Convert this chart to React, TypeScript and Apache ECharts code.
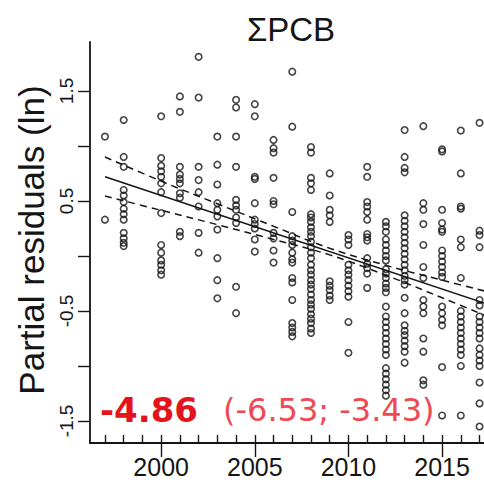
import React, { useEffect, useRef } from "react";
import * as echarts from "echarts";

// Sampling years and the partial residuals (ln) observed in each year
const pointYears = [
  1997, 1998, 2000, 2001, 2002, 2003, 2004, 2005, 2006, 2007, 2008,
  2009, 2010, 2011, 2012, 2013, 2014, 2015, 2016, 2017,
];
const residualsByYear: number[][] = [
  [1.085, 0.33],
  [1.236, 0.9, 0.81, 0.6, 0.55, 0.49, 0.43, 0.38, 0.33, 0.21, 0.16, 0.12, 0.09],
  [1.27, 0.89, 0.82, 0.77, 0.72, 0.66, 0.58, 0.39, 0.1, 0.03, -0.04, -0.08, -0.13, -0.17],
  [1.45, 1.31, 0.81, 0.74, 0.7, 0.66, 0.57, 0.53, 0.22, 0.18],
  [1.81, 1.44, 0.81, 0.69, 0.58, 0.45, 0.21, 0.03],
  [1.085, 0.83, 0.65, 0.48, 0.42, 0.36, 0.24, -0.02, -0.22, -0.385],
  [1.42, 1.35, 1.085, 0.81, 0.51, 0.46, 0.42, 0.35, 0.3, -0.28, -0.52],
  [1.38, 1.27, 0.72, 0.7, 0.48, 0.33, 0.29, 0.25, 0.15, 0.04],
  [1.055, 0.98, 0.94, 0.71, 0.5, 0.47, 0.21, 0.16, 0.05, -0.06],
  [1.675, 1.175, 0.4, 0.18, 0.14, 0.1, 0.03, -0.03, -0.06, -0.2, -0.24, -0.4, -0.61, -0.65, -0.69, -0.73],
  [0.99, 0.94, 0.71, 0.66, 0.6, 0.38, 0.35, 0.31, 0.26, 0.22, 0.18, 0.13, 0.08, 0.03, -0.02, -0.08, -0.13, -0.17, -0.22, -0.26, -0.3, -0.35, -0.4, -0.44, -0.48, -0.53, -0.57, -0.61, -0.66, -0.7],
  [0.75, 0.55, 0.42, 0.37, 0.31, -0.23, -0.27, -0.31, -0.36, -0.4],
  [0.19, 0.15, 0.1, -0.08, -0.13, -0.17, -0.22, -0.27, -0.32, -0.37, -0.6, -0.88],
  [0.81, 0.72, 0.49, 0.45, 0.4, 0.33, 0.2, 0.17, 0.14, -0.02, -0.07, -0.11, -0.16, -0.29],
  [0.31, 0.27, 0.22, 0.15, 0.1, 0.05, 0.0, -0.04, -0.12, -0.16, -0.2, -0.25, -0.29, -0.33, -0.46, -0.55, -0.6, -0.65, -0.7, -0.75, -0.8, -0.85, -0.9, -1.02, -1.07, -1.12, -1.17, -1.22, -1.27],
  [1.145, 0.9, 0.8, 0.76, 0.37, 0.32, 0.27, 0.22, 0.17, 0.12, 0.07, 0.02, -0.03, -0.08, -0.13, -0.18, -0.22, -0.26, -0.38, -0.52, -0.63, -0.68, -0.72, -0.77, -0.82, -0.87, -0.97],
  [1.18, 0.48, 0.42, 0.29, 0.1, -0.1, -0.2, -0.4, -0.46, -0.52, -0.75, -0.87, -1.13, -1.17],
  [0.97, 0.95, 0.42, 0.3, 0.24, 0.22, 0.05, 0.0, -0.05, -0.1, -0.15, -0.19, -0.46, -0.52, -0.58, -0.63, -1.01, -1.45],
  [1.14, 0.75, 0.45, 0.43, 0.15, 0.08, -0.2, -0.5, -0.55, -0.6, -0.65, -0.7, -0.75, -0.8, -0.85, -0.9, -1.0, -1.45],
  [1.21, 0.23, 0.19, 0.08, -0.4, -0.45, -0.55, -0.6, -0.65, -0.7, -0.75, -0.84, -0.9, -0.95, -1.0, -1.15, -1.34, -1.55],
];

// Fitted trend and its confidence band
const fitYears = [1997, 2018];
const fitValues = [0.72, -0.47];
const ciYears = [1997, 2000, 2003, 2006, 2009, 2012, 2015, 2018];
const ciUpper = [0.9, 0.68, 0.475, 0.27, 0.07, -0.085, -0.22, -0.35];
const ciLower = [0.545, 0.415, 0.285, 0.15, 0.01, -0.175, -0.38, -0.59];

// Axis ticks and labels
const yTicks = [-1.5, -1, -0.5, 0, 0.5, 1, 1.5];
const yLabels = [-1.5, -0.5, 0.5, 1.5];
const xMinorTicks = [
  1997, 1998, 1999, 2000, 2001, 2002, 2003, 2004, 2005, 2006, 2007,
  2008, 2009, 2010, 2011, 2012, 2013, 2014, 2015, 2016, 2017, 2018,
];
const xLabels = [2000, 2005, 2010, 2015];

const titleText = "ΣPCB";
const yTitle = "Partial residuals (ln)";
const trendText = "-4.86";
const trendCiText = "(-6.53; -3.43)";

const ink = "#151515";
const sans = "'Liberation Sans', Arial, sans-serif";

export default function App() {
  const ref = useRef<HTMLDivElement>(null);

  useEffect(() => {
    if (!ref.current) return;
    const chart = echarts.init(ref.current, null, { renderer: "svg" });

    const points: [number, number][] = [];
    pointYears.forEach((yr, i) => {
      residualsByYear[i].forEach((v) => points.push([yr, v]));
    });

    const axisLineStyle = { color: ink, width: 1.8 };

    chart.setOption({
      animation: false,
      backgroundColor: "#ffffff",
      grid: {
        left: 90,
        top: 42,
        width: 427,
        height: 401,
        containLabel: false,
        outerBoundsMode: "none",
      },
      xAxis: [
        {
          type: "value",
          position: "bottom",
          min: 1996.2,
          max: 2019,
          axisLine: { show: true, onZero: false, lineStyle: axisLineStyle },
          axisTick: {
            show: true,
            inside: true,
            length: 8,
            customValues: xMinorTicks,
            lineStyle: { color: ink, width: 1.4 },
          },
          axisLabel: { show: false },
          splitLine: { show: false },
        },
        {
          type: "value",
          position: "bottom",
          min: 1996.2,
          max: 2019,
          axisLine: { show: false, onZero: false },
          axisTick: {
            show: true,
            length: 14,
            customValues: xLabels,
            lineStyle: { color: ink, width: 1.4 },
          },
          axisLabel: {
            show: true,
            customValues: xLabels,
            formatter: (v: number) => String(v),
            fontSize: 25,
            fontFamily: sans,
            color: ink,
            margin: 11,
          },
          splitLine: { show: false },
        },
      ],
      yAxis: {
        type: "value",
        min: -1.7,
        max: 1.945,
        axisLine: { show: true, onZero: false, lineStyle: axisLineStyle },
        axisTick: {
          show: true,
          length: 12,
          customValues: yTicks,
          lineStyle: { color: ink, width: 1.4 },
        },
        axisLabel: {
          show: true,
          customValues: yLabels,
          formatter: (v: number) => String(v),
          rotate: 90,
          fontSize: 19,
          fontFamily: sans,
          color: ink,
          margin: 14,
        },
        splitLine: { show: false },
      },
      series: [
        {
          type: "scatter",
          xAxisIndex: 0,
          data: points,
          symbol: "circle",
          symbolSize: 6.5,
          silent: true,
          itemStyle: {
            color: "rgba(0,0,0,0)",
            borderColor: ink,
            borderWidth: 1.6,
          },
        },
        {
          type: "line",
          xAxisIndex: 0,
          data: fitYears.map((yr, i) => [yr, fitValues[i]]),
          symbol: "none",
          silent: true,
          lineStyle: { color: ink, width: 1.5 },
        },
        {
          type: "line",
          xAxisIndex: 0,
          data: ciYears.map((yr, i) => [yr, ciUpper[i]]),
          symbol: "none",
          smooth: 0.4,
          silent: true,
          lineStyle: { color: ink, width: 1.5, type: [7, 5] },
        },
        {
          type: "line",
          xAxisIndex: 0,
          data: ciYears.map((yr, i) => [yr, ciLower[i]]),
          symbol: "none",
          smooth: 0.4,
          silent: true,
          lineStyle: { color: ink, width: 1.5, type: [7, 5] },
        },
      ],
      graphic: [
        {
          type: "text",
          x: 291,
          y: 29,
          style: {
            text: titleText,
            fontSize: 33,
            fontFamily: sans,
            fill: ink,
            align: "center",
            verticalAlign: "middle",
          },
        },
        {
          type: "text",
          x: 31,
          y: 240,
          rotation: Math.PI / 2,
          style: {
            text: yTitle,
            fontSize: 35,
            fontFamily: sans,
            fill: ink,
            align: "center",
            verticalAlign: "middle",
          },
        },
        {
          type: "text",
          x: 100,
          y: 410,
          z: 10,
          style: {
            text: trendText,
            fontSize: 34,
            fontWeight: "bold",
            fontFamily: "'DejaVu Sans', sans-serif",
            fill: "#e3141b",
            align: "left",
            verticalAlign: "middle",
          },
        },
        {
          type: "text",
          x: 223,
          y: 410,
          z: 10,
          style: {
            text: trendCiText,
            fontSize: 32,
            fontFamily: "'DejaVu Sans', sans-serif",
            fill: "#ee4a54",
            align: "left",
            verticalAlign: "middle",
          },
        },
      ],
    });

    return () => chart.dispose();
  }, []);

  return (
    <div
      ref={ref}
      style={{
        position: "absolute",
        left: 0,
        top: 0,
        width: 484,
        height: 482,
        background: "#ffffff",
      }}
    />
  );
}
